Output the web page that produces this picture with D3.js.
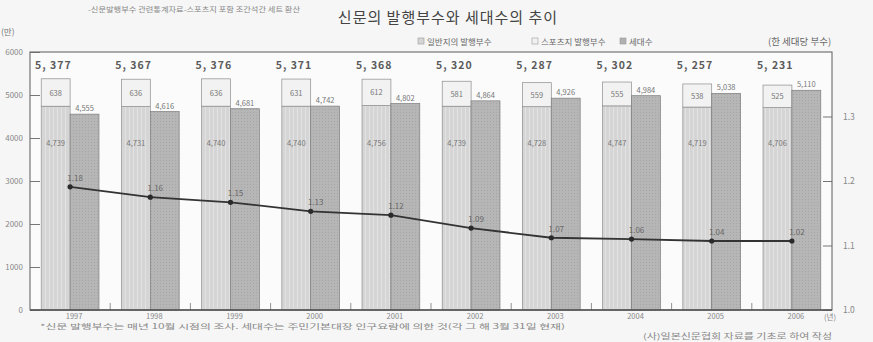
<!DOCTYPE html>
<html>
<head>
<meta charset="utf-8">
<script src="https://cdn.jsdelivr.net/npm/d3@7/dist/d3.min.js"></script>
<style>
  body { margin: 0; background: #f6f6f6; }
  svg { display: block; font-family: "Noto Sans CJK KR", "Noto Sans", sans-serif; }
</style>
</head>
<body>
<svg id="chart" width="873" height="342"></svg>
<script>
// 연도
const years = ['1997', '1998', '1999', '2000', '2001', '2002', '2003', '2004', '2005', '2006'];
// 일반지의 발행부수 (만부)
const general = [4739, 4731, 4740, 4740, 4756, 4739, 4728, 4747, 4719, 4706];
// 스포츠지 발행부수 (만부)
const sports = [638, 636, 636, 631, 612, 581, 559, 555, 538, 525];
// 세대수 (만)
const households = [4555, 4616, 4681, 4742, 4802, 4864, 4926, 4984, 5038, 5110];
// 한 세대당 부수: line as drawn in the picture, and the printed labels
const perHousehold = [1.191, 1.175, 1.167, 1.153, 1.147, 1.127, 1.112, 1.110, 1.107, 1.107];
const perHouseholdLabels = ['1.18', '1.16', '1.15', '1.13', '1.12', '1.09', '1.07', '1.06', '1.04', '1.02'];
const leftTicks = [0, 1000, 2000, 3000, 4000, 5000, 6000];
const rightTicks = [1.0, 1.1, 1.2, 1.3];

const svg = d3.select('#chart');
const plotLeft = 30, plotRight = 832, plotTop = 52, plotBottom = 310;

const x = d3.scaleBand().domain(years).range([plotLeft, plotRight]).paddingInner(0.28).paddingOuter(0.14);
const bw = x.bandwidth() / 2;
const yL = d3.scaleLinear().domain([0, 6000]).range([plotBottom, plotTop]);
const yR = d3.scaleLinear().domain([1.0, 1.4]).range([plotBottom, plotTop]);

const rows = years.map((year, i) => ({
  year,
  general: general[i],
  sports: sports[i],
  total: general[i] + sports[i],
  households: households[i],
  ratio: perHousehold[i],
  ratioLabel: perHouseholdLabels[i]
}));

// textures
const defs = svg.append('defs');
const pl = defs.append('pattern').attr('id', 'stripeL').attr('patternUnits', 'userSpaceOnUse')
  .attr('width', 4).attr('height', 4);
pl.append('rect').attr('width', 4).attr('height', 4).attr('fill', '#d5d5d5');
pl.append('rect').attr('x', 1).attr('width', 1).attr('height', 4).attr('fill', '#e2e2e2');
const pr = defs.append('pattern').attr('id', 'dotR').attr('patternUnits', 'userSpaceOnUse')
  .attr('width', 3).attr('height', 3);
pr.append('rect').attr('width', 3).attr('height', 3).attr('fill', '#b6b6b6');
pr.append('rect').attr('x', 1).attr('y', 1).attr('width', 1).attr('height', 1).attr('fill', '#a6a6a6');

// plot background
svg.append('rect')
  .attr('x', plotLeft).attr('y', plotTop)
  .attr('width', plotRight - plotLeft).attr('height', plotBottom - plotTop)
  .attr('fill', '#fbfbfb');

// titles
svg.append('text')
  .attr('x', 88).attr('y', 12)
  .attr('font-size', 7).attr('fill', '#888')
  .attr('textLength', 212).attr('lengthAdjust', 'spacingAndGlyphs')
  .text('-신문발행부수 관련통계자료-스포츠지 포함 조간석간 세트 환산');

svg.append('text')
  .attr('x', 448).attr('y', 23)
  .attr('text-anchor', 'middle')
  .attr('font-size', 15).attr('fill', '#444')
  .attr('letter-spacing', 1)
  .text('신문의 발행부수와 세대수의 추이');

svg.append('text')
  .attr('x', 1).attr('y', 35)
  .attr('font-size', 8.5).attr('fill', '#777')
  .text('(만)');

svg.append('text')
  .attr('x', 768).attr('y', 45)
  .attr('font-size', 9.5).attr('fill', '#666')
  .text('(한 세대당 부수)');

// legend
const legendItems = [
  { label: '일반지의 발행부수', fill: '#d5d5d5', x: 418 },
  { label: '스포츠지 발행부수', fill: '#f1f1f1', x: 532 },
  { label: '세대수', fill: '#b0b0b0', x: 620 }
];
const legend = svg.selectAll('g.legend')
  .data(legendItems)
  .enter()
  .append('g')
  .attr('class', 'legend')
  .attr('transform', d => `translate(${d.x},38)`);
legend.append('rect')
  .attr('width', 6).attr('height', 6)
  .attr('fill', d => d.fill).attr('stroke', '#999').attr('stroke-width', 0.6);
legend.append('text')
  .attr('x', 9).attr('y', 7)
  .attr('font-size', 8.5).attr('fill', '#666')
  .text(d => d.label);

// bars
const groups = svg.selectAll('g.year')
  .data(rows)
  .enter()
  .append('g')
  .attr('class', 'year');

groups.append('rect')
  .attr('x', d => x(d.year))
  .attr('y', d => yL(d.general))
  .attr('width', bw)
  .attr('height', d => plotBottom - yL(d.general))
  .attr('fill', 'url(#stripeL)')
  .attr('stroke', '#8d8d8d').attr('stroke-width', 0.7);

groups.append('rect')
  .attr('x', d => x(d.year))
  .attr('y', d => yL(d.total))
  .attr('width', bw)
  .attr('height', d => yL(d.general) - yL(d.total))
  .attr('fill', '#f2f2f2')
  .attr('stroke', '#8d8d8d').attr('stroke-width', 0.7);

groups.append('rect')
  .attr('x', d => x(d.year) + bw)
  .attr('y', d => yL(d.households))
  .attr('width', bw)
  .attr('height', d => plotBottom - yL(d.households))
  .attr('fill', 'url(#dotR)')
  .attr('stroke', '#7d7d7d').attr('stroke-width', 0.7);

// bar labels
const fmt = d3.format(',');
groups.append('text')
  .attr('x', d => x(d.year) + bw - 35)
  .attr('y', 69)
  .attr('font-size', 10.5).attr('font-weight', 'bold').attr('fill', '#5a5a5a')
  .attr('letter-spacing', 1)
  .text(d => fmt(d.total).replace(',', ', '));

groups.append('text')
  .attr('x', d => x(d.year) + bw / 2)
  .attr('y', d => (yL(d.total) + yL(d.general)) / 2 + 3)
  .attr('text-anchor', 'middle')
  .attr('font-size', 7.5).attr('fill', '#777')
  .text(d => d.sports);

groups.append('text')
  .attr('x', d => x(d.year) + bw / 2)
  .attr('y', 146)
  .attr('text-anchor', 'middle')
  .attr('font-size', 7.5).attr('fill', '#777')
  .text(d => fmt(d.general));

groups.append('text')
  .attr('x', d => x(d.year) + bw * 1.5)
  .attr('y', d => yL(d.households) - 3)
  .attr('text-anchor', 'middle')
  .attr('font-size', 7.5).attr('fill', '#777')
  .text(d => fmt(d.households));

// bottom boundary ticks between groups
const gap = x.step() - x.bandwidth();
svg.selectAll('line.sep')
  .data(years.slice(0, -1))
  .enter()
  .append('line')
  .attr('class', 'sep')
  .attr('x1', d => x(d) + x.bandwidth() + gap / 2)
  .attr('x2', d => x(d) + x.bandwidth() + gap / 2)
  .attr('y1', plotBottom - 7).attr('y2', plotBottom)
  .attr('stroke', '#777').attr('stroke-width', 0.8);

// per household line
const line = d3.line()
  .x(d => x(d.year) + bw)
  .y(d => yR(d.ratio));

svg.append('path')
  .datum(rows)
  .attr('d', line)
  .attr('fill', 'none')
  .attr('stroke', '#333')
  .attr('stroke-width', 1.8);

svg.selectAll('circle.pt')
  .data(rows)
  .enter()
  .append('circle')
  .attr('class', 'pt')
  .attr('cx', d => x(d.year) + bw)
  .attr('cy', d => yR(d.ratio))
  .attr('r', 2.6)
  .attr('fill', '#2a2a2a');

svg.selectAll('text.ratio')
  .data(rows)
  .enter()
  .append('text')
  .attr('class', 'ratio')
  .attr('x', d => x(d.year) + bw + 5)
  .attr('y', d => yR(d.ratio) - 6)
  .attr('text-anchor', 'middle')
  .attr('font-size', 8).attr('fill', '#666')
  .text(d => d.ratioLabel);

// axes
const axL = svg.append('g')
  .attr('transform', `translate(${plotLeft},0)`)
  .call(d3.axisLeft(yL).tickValues(leftTicks).tickSizeInner(-10).tickSizeOuter(0).tickPadding(7).tickFormat(d3.format('d')));
axL.select('.domain').remove();
axL.selectAll('line').attr('stroke', '#777');
axL.selectAll('text').attr('font-size', 8).attr('fill', '#888').attr('font-family', '"Noto Sans CJK KR", sans-serif');

const axR = svg.append('g')
  .attr('transform', `translate(${plotRight},0)`)
  .call(d3.axisRight(yR).tickValues(rightTicks).tickSizeInner(-9).tickSizeOuter(0).tickPadding(11).tickFormat(d3.format('.1f')));
axR.select('.domain').remove();
axR.selectAll('line').attr('stroke', '#777');
axR.selectAll('text').attr('font-size', 8.5).attr('fill', '#888').attr('font-family', '"Noto Sans CJK KR", sans-serif');

const axB = svg.append('g')
  .attr('transform', `translate(0,${plotBottom})`)
  .call(d3.axisBottom(x).tickSize(0).tickPadding(4));
axB.select('.domain').remove();
axB.selectAll('text').attr('font-size', 7.5).attr('fill', '#888').attr('dx', 4).attr('font-family', '"Noto Sans CJK KR", sans-serif');

svg.append('text')
  .attr('x', 824).attr('y', 320)
  .attr('font-size', 7.5).attr('fill', '#888')
  .text('(년)');

// frame
svg.append('rect')
  .attr('x', plotLeft).attr('y', plotTop)
  .attr('width', plotRight - plotLeft).attr('height', plotBottom - plotTop)
  .attr('fill', 'none').attr('stroke', '#6a6a6a').attr('stroke-width', 1.1);
svg.append('line')
  .attr('x1', plotLeft).attr('x2', plotRight)
  .attr('y1', plotBottom).attr('y2', plotBottom)
  .attr('stroke', '#555').attr('stroke-width', 1.6);

// notes
svg.append('text')
  .attr('x', 40).attr('y', 329)
  .attr('font-size', 7).attr('fill', '#888')
  .attr('textLength', 525).attr('lengthAdjust', 'spacingAndGlyphs')
  .text('*신문 발행부수는 매년 10월 시점의 조사. 세대수는 주민기본대장 인구요람에 의한 것(각 그 해 3월 31일 현재)');

svg.append('text')
  .attr('x', 643).attr('y', 339)
  .attr('font-size', 7.5).attr('fill', '#888')
  .attr('textLength', 189).attr('lengthAdjust', 'spacingAndGlyphs')
  .text('(사)일본신문협회 자료를 기초로 하여 작성');
</script>
</body>
</html>
